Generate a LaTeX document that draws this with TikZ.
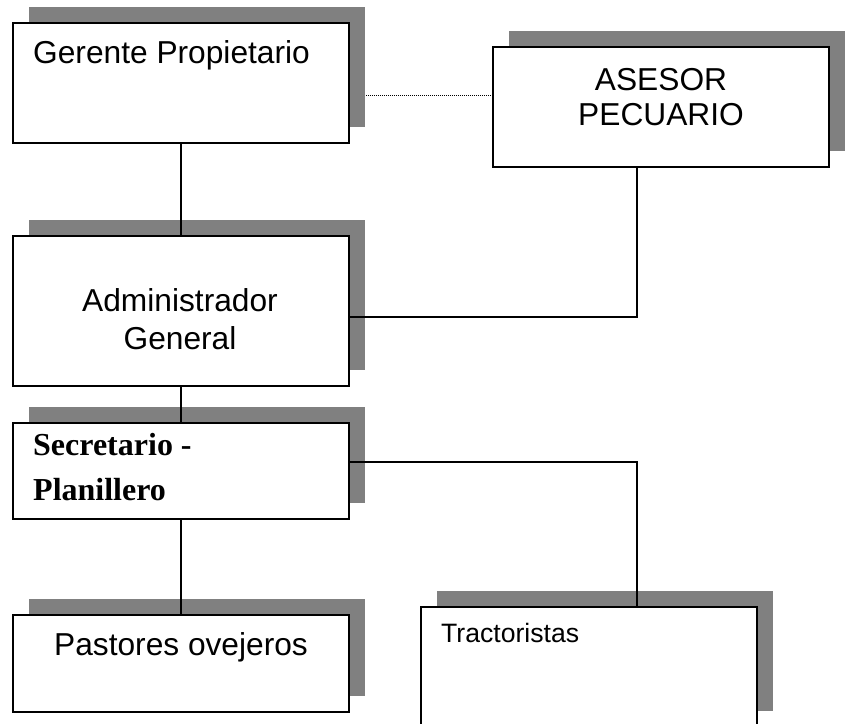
\documentclass[tikz,border=0pt]{standalone}
\usepackage{fontspec}
\setmainfont{Liberation Sans}
\newfontfamily\serifbf{Liberation Serif}
\usetikzlibrary{shadows,backgrounds}
\begin{document}
\begin{tikzpicture}[x=1pt,y=-1pt,
  orgbox/.style={draw=black, line width=1.8pt, fill=white, inner sep=0pt,
    minimum width=336pt,
    drop shadow={shadow xshift=16pt, shadow yshift=16pt, fill=gray, opacity=1, draw=none}},
  txt/.style={inner sep=0pt, font=\fontsize{31.7}{38}\selectfont},
  txtb/.style={inner sep=0pt, font=\fontsize{32}{38}\selectfont\serifbf\bfseries},
  txts/.style={inner sep=0pt, font=\fontsize{26.6}{32}\selectfont},
  conn/.style={draw=black, line width=1.8pt},
  dotconn/.style={draw=black, line width=1pt, dash pattern=on 1pt off 1pt}]
\clip (0,0) rectangle (851,723);

% boxes
\node[orgbox, minimum height=120pt] (gerente) at (181,83) {};
\node[orgbox, minimum height=120pt] (asesor) at (661,107) {};
\node[orgbox, minimum height=150pt] (admin) at (181,311) {};
\node[orgbox, minimum height=96pt] (secret) at (181,471) {};
\node[orgbox, minimum height=97pt] (pastores) at (181,663.5) {};
\node[orgbox, minimum height=120pt] (tract) at (589,667) {};

% texts
\node[txt, anchor=base west] (tgerente) at (33,63) {Gerente Propietario};
\node[txt, anchor=base] (tasesor1) at (661,90) {ASESOR};
\node[txt, anchor=base] (tasesor2) at (661,125) {PECUARIO};
\node[txt, anchor=base] (tadmin1) at (180,311.5) {Administrador};
\node[txt, anchor=base] (tadmin2) at (180,349) {General};
\node[txtb, anchor=base west] (tsecret1) at (33,455) {Secretario -};
\node[txtb, anchor=base west] (tsecret2) at (33,500) {Planillero};
\node[txt, anchor=base] (tpastores) at (181,655) {Pastores ovejeros};
\node[txts, anchor=base west] (ttract) at (441,642) {Tractoristas};

% connectors
\draw[conn] (gerente.south) -- (admin.north);
\draw[conn] (admin.east |- 0,317) -| (asesor.south -| 637,0);
\draw[conn] (admin.south) -- (secret.north);
\draw[conn] (secret.east |- 0,462) -| (tract.north -| 637,0);
\draw[conn] (secret.south) -- (pastores.north);
\begin{scope}[on background layer]
\fill[white] (0,0) rectangle (851,723);
\draw[dotconn] (gerente.east |- 0,95) -- (asesor.west |- 0,95);
\end{scope}
\end{tikzpicture}
\end{document}
